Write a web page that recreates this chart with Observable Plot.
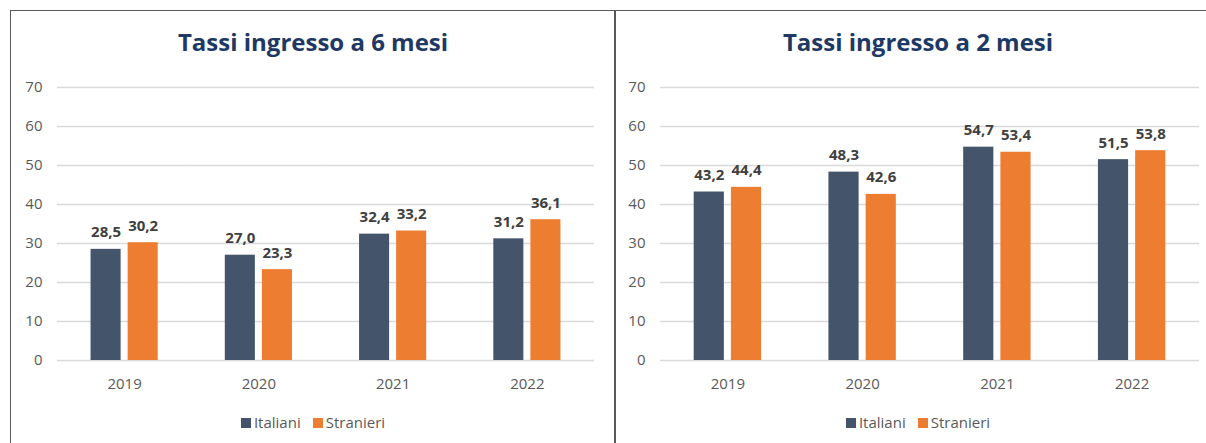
<!DOCTYPE html>
<html>
<head>
<meta charset="utf-8">
<script src="https://cdn.jsdelivr.net/npm/d3@7"></script>
<script src="https://cdn.jsdelivr.net/npm/@observablehq/plot@0.6"></script>
<style>
  html, body { margin: 0; padding: 0; background: #fff; }
  body { width: 1206px; height: 443px; overflow: hidden; position: relative; font-family: "Open Sans", sans-serif; }
  .panel { position: absolute; top: 10px; height: 440px; border-top: 1px solid #595959; border-left: 1px solid #595959; box-sizing: border-box; }
  .title { height: 60px; box-sizing: border-box; padding-top: 16px; line-height: 30px; text-align: center; font-weight: bold; font-size: 24px; color: #203864; }
  .legend { margin-top: 11px; line-height: 20px; text-align: center; font-size: 15px; color: #595959; }
  .legend .sw { display: inline-block; width: 10px; height: 10px; margin-right: 3px; vertical-align: -0px; }
  .legend .item { margin: 0 6px; }
  svg { display: block; }
</style>
</head>
<body>
<div id="p1" class="panel" style="left:10px; width:605px;"></div>
<div id="p2" class="panel" style="left:614px; width:606px; border-left-width:2px;"></div>
<script>
const years = ["2019", "2020", "2021", "2022"];
const seriesNames = ["Italiani", "Stranieri"];
const seriesColors = ["#44546a", "#ed7d31"];
const yTicks = [0, 10, 20, 30, 40, 50, 60, 70];

const titles = ["Tassi ingresso a 6 mesi", "Tassi ingresso a 2 mesi"];

const italiani6 = [28.5, 27.0, 32.4, 31.2];
const stranieri6 = [30.2, 23.3, 33.2, 36.1];
const italiani2 = [43.2, 48.3, 54.7, 51.5];
const stranieri2 = [44.4, 42.6, 53.4, 53.8];

function rows(it, st) {
  const out = [];
  years.forEach((y, i) => {
    out.push({year: y, series: "Italiani", value: it[i]});
    out.push({year: y, series: "Stranieri", value: st[i]});
  });
  return out;
}

const fmt = v => v.toFixed(1).replace(".", ",");

function panel(el, title, data, width, marginLeft, marginRight) {
  const t = document.createElement("div");
  t.className = "title";
  t.textContent = title;
  el.appendChild(t);

  const chart = Plot.plot({
    width, height: 330,
    marginLeft, marginRight, marginTop: 16, marginBottom: 41,
    style: {fontFamily: "Open Sans, sans-serif", fontSize: "15px", color: "#595959", background: "transparent"},
    fx: {domain: years, padding: 0, round: false, label: null, axis: "bottom", tickSize: 0, tickPadding: 18},
    x: {domain: seriesNames, axis: null, round: false, paddingInner: 7 / 37, paddingOuter: 0.905},
    y: {domain: [0, 70], ticks: yTicks, label: null, axis: null},
    color: {domain: seriesNames, range: seriesColors},
    marks: [
      Plot.gridY(yTicks, {stroke: "#d9d9d9", strokeOpacity: 1, strokeWidth: 1.3}),
      Plot.axisY({ticks: yTicks, tickSize: 0, tickPadding: 15, label: null, fill: "#595959", facetAnchor: "left"}),
      Plot.barY(data, {fx: "year", x: "series", y: "value", fill: "series"}),
      Plot.text(data, {fx: "year", x: "series", y: "value", text: d => fmt(d.value),
        lineAnchor: "bottom", dy: -12, fontWeight: "bold", fontSize: 15, fill: "#404040"})
    ]
  });
  el.appendChild(chart);

  const lg = document.createElement("div");
  lg.className = "legend";
  seriesNames.forEach((s, i) => {
    const it = document.createElement("span");
    it.className = "item";
    const sw = document.createElement("span");
    sw.className = "sw";
    sw.style.background = seriesColors[i];
    it.appendChild(sw);
    it.appendChild(document.createTextNode(s));
    lg.appendChild(it);
  });
  el.appendChild(lg);
}

panel(document.getElementById("p1"), titles[0], rows(italiani6, stranieri6), 604, 46, 21);
panel(document.getElementById("p2"), titles[1], rows(italiani2, stranieri2), 604, 44, 21);
</script>
</body>
</html>
